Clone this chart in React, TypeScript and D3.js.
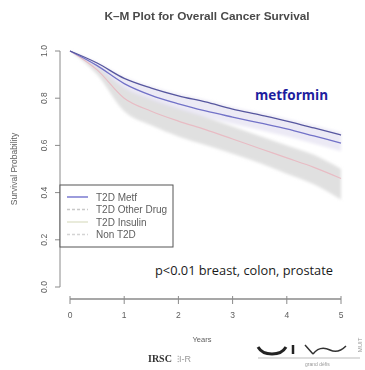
import React from 'react';
import * as d3 from 'd3';

// follow-up time (years)
const years = [0, 0.5, 1, 1.5, 2, 2.5, 3, 3.5, 4, 4.5, 5];

// survival estimates
const metfUpper = [1.0, 0.949, 0.884, 0.843, 0.81, 0.784, 0.754, 0.729, 0.703, 0.674, 0.644];
const metfLower = [1.0, 0.938, 0.862, 0.812, 0.776, 0.746, 0.72, 0.695, 0.67, 0.64, 0.61];
const metfBandHi = [1.0, 0.952, 0.89, 0.85, 0.818, 0.792, 0.762, 0.738, 0.712, 0.684, 0.655];
const metfBandLo = [1.0, 0.928, 0.84, 0.79, 0.752, 0.72, 0.692, 0.665, 0.638, 0.607, 0.575];

const otherMid = [1.0, 0.92, 0.8, 0.745, 0.703, 0.667, 0.627, 0.587, 0.547, 0.507, 0.46];
const otherHi = [1.0, 0.94, 0.845, 0.797, 0.757, 0.72, 0.68, 0.64, 0.60, 0.56, 0.50];
const otherLo = [1.0, 0.9, 0.745, 0.685, 0.638, 0.602, 0.565, 0.525, 0.48, 0.435, 0.37];

const yTicks = [0, 0.2, 0.4, 0.6, 0.8, 1.0];
const xTicks = [0, 1, 2, 3, 4, 5];

const legendItems = [
  {label: 'T2D Metf', color: '#8383d4', dash: ''},
  {label: 'T2D Other Drug', color: '#c8c8c8', dash: '3,2'},
  {label: 'T2D Insulin', color: '#e4e6d2', dash: ''},
  {label: 'Non T2D', color: '#d4d4d4', dash: '3,2'},
];

export default function App() {
  const width = 365, height = 370;
  const x = d3.scaleLinear().domain([0, 5]).range([70, 341]);
  const y = d3.scaleLinear().domain([0, 1]).range([287, 51]);

  const line = d3.line<number>()
    .x((d, i) => x(years[i]))
    .y((d) => y(d))
    .curve(d3.curveMonotoneX);

  const band = (hi: number[], lo: number[]) => d3.area<number>()
    .x((d, i) => x(years[i]))
    .y0((d, i) => y(lo[i]))
    .y1((d) => y(d))
    .curve(d3.curveMonotoneX)(hi) as string;

  const axisColor = '#8a8a8a';
  const textColor = '#5e5e5e';
  const font = 'Liberation Sans, Arial, sans-serif';

  return (
    <svg width={width} height={height} style={{position: 'absolute', left: 0, top: 0, background: '#fff'}}>
      <defs>
        <filter id="soft" x="-5%" y="-5%" width="110%" height="110%">
          <feGaussianBlur stdDeviation="0.6" />
        </filter>
        <filter id="softer" x="-5%" y="-5%" width="110%" height="110%">
          <feGaussianBlur stdDeviation="1.8" />
        </filter>
      </defs>

      {/* title */}
      <text x={207} y={20} textAnchor="middle" fontFamily={font} fontWeight="bold" fontSize={11.8}
        fill="#4a4a4a" filter="url(#soft)">K–M Plot for Overall Cancer Survival</text>

      {/* confidence bands */}
      <g filter="url(#softer)">
        <path d={band(otherHi, otherLo)} fill="#d6d6d6" opacity={0.75} />
        <path d={band(metfBandHi, metfBandLo)} fill="#e2def0" opacity={0.65} />
      </g>

      {/* survival curves */}
      <g filter="url(#soft)" fill="none">
        <path d={line(otherMid) as string} stroke="#e8bcc4" strokeWidth={1.2} />
        <path d={line(metfLower) as string} stroke="#7272c8" strokeWidth={1.3} />
        <path d={line(metfUpper) as string} stroke="#57579f" strokeWidth={1.3} />
      </g>

      {/* y axis */}
      <g filter="url(#soft)">
        <line x1={60} x2={60} y1={y(0)} y2={y(1)} stroke={axisColor} strokeWidth={1} />
        {yTicks.map((t) => (
          <g key={t}>
            <line x1={55} x2={60} y1={y(t)} y2={y(t)} stroke={axisColor} />
            <text transform={`translate(47,${y(t)}) rotate(-90)`} textAnchor="middle" fontFamily={font}
              fontSize={8.5} fill={textColor}>{t.toFixed(1)}</text>
          </g>
        ))}
        <text transform={`translate(17,${y(0.5)}) rotate(-90)`} textAnchor="middle" fontFamily={font}
          fontSize={8.5} fill={textColor}>Survival Probability</text>
      </g>

      {/* x axis */}
      <g filter="url(#soft)">
        <line x1={x(0)} x2={x(5)} y1={299} y2={299} stroke={axisColor} strokeWidth={1.4} />
        {xTicks.map((t) => (
          <g key={t}>
            <line x1={x(t)} x2={x(t)} y1={296} y2={304} stroke={axisColor} />
            <text x={x(t)} y={318} textAnchor="middle" fontFamily={font} fontSize={8.5} fill={textColor}>{t}</text>
          </g>
        ))}
        <text x={202} y={342} textAnchor="middle" fontFamily={font} fontSize={7.5} fill={textColor}>Years</text>
      </g>

      {/* legend */}
      <g filter="url(#soft)">
        <rect x={60} y={185} width={113} height={62} fill="#fff" stroke="#555" strokeWidth={1} />
        {legendItems.map((d, i) => (
          <g key={d.label} transform={`translate(0,${197 + i * 12.5})`}>
            <line x1={67} x2={88} y1={0} y2={0} stroke={d.color} strokeWidth={1.6} strokeDasharray={d.dash} />
            <text x={96} y={3.5} fontFamily={font} fontSize={10} fill={textColor}>{d.label}</text>
          </g>
        ))}
      </g>

      {/* annotations */}
      <text x={255} y={100} fontFamily="Open Sans, sans-serif" fontWeight="bold" fontSize={13.5}
        fill="#1d1d9e">metformin</text>
      <text x={155} y={275} fontFamily="Open Sans, sans-serif" fontSize={12.8} fill="#1a1a1a">p&lt;0.01 breast, colon, prostate</text>

      {/* cropped slide footer */}
      <g filter="url(#soft)">
        <text x={148} y={362} fontFamily="Liberation Serif, serif" fontWeight="bold" fontSize={10} fill="#333">IRSC</text>
        <text x={177} y={362} fontFamily={font} fontSize={9} fill="#999">⁝I-R</text>
        <path d="M258,347 Q262,354 272,354 Q282,354 286,347" fill="none" stroke="#222" strokeWidth={3} />
        <line x1={293} x2={293} y1={345} y2={354} stroke="#222" strokeWidth={2.5} />
        <path d="M305,345 L313,354 M313,354 Q320,345 330,350 Q338,354 346,346" fill="none" stroke="#333" strokeWidth={1.5} />
        <line x1={258} x2={360} y1={358} y2={358} stroke="#aaa" strokeWidth={0.8} />
        <text x={305} y={366} fontFamily={font} fontSize={5} fill="#999">grand défis</text>
        <text transform="translate(362,345) rotate(-90)" fontFamily={font} fontSize={6} fill="#999" textAnchor="middle">MUIT</text>
      </g>
    </svg>
  );
}
